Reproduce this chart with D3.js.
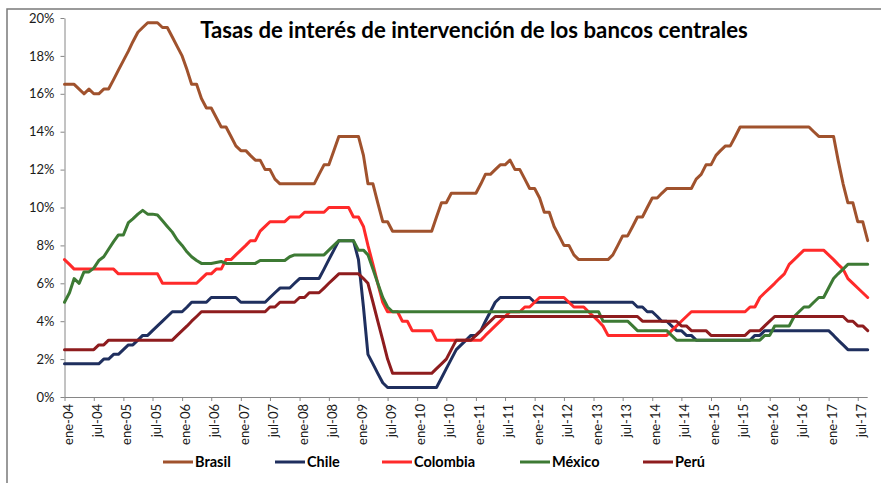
<!DOCTYPE html>
<html>
<head>
<meta charset="utf-8">
<script src="https://cdn.jsdelivr.net/npm/d3@7"></script>
<style>
  body { margin: 0; background: #fff; }
  svg { display: block; font-family: Lato, "Open Sans", sans-serif; }
</style>
</head>
<body>
<script>
// monthly policy rates, ene-04 .. sep-17 (165 months)
var startMonth = "2004-01";
var countries = ["Brasil", "Chile", "Colombia", "México", "Perú"];

var brasil = [
  16.5,16.5,16.5,16.25,16.0,16.25,16.0,16.0,16.25,16.25,16.75,17.25,
  17.75,18.25,18.75,19.25,19.5,19.75,19.75,19.75,19.5,19.5,19.0,18.5,
  18.0,17.25,16.5,16.5,15.75,15.25,15.25,14.75,14.25,14.25,13.75,13.25,
  13.0,13.0,12.75,12.5,12.5,12.0,12.0,11.5,11.25,11.25,11.25,11.25,
  11.25,11.25,11.25,11.25,11.75,12.25,12.25,13.0,13.75,13.75,13.75,13.75,
  13.75,12.75,11.25,11.25,10.25,9.25,9.25,8.75,8.75,8.75,8.75,8.75,
  8.75,8.75,8.75,8.75,9.5,10.25,10.25,10.75,10.75,10.75,10.75,10.75,
  10.75,11.25,11.75,11.75,12.0,12.25,12.25,12.5,12.0,12.0,11.5,11.0,
  11.0,10.5,9.75,9.75,9.0,8.5,8.0,8.0,7.5,7.25,7.25,7.25,
  7.25,7.25,7.25,7.25,7.5,8.0,8.5,8.5,9.0,9.5,9.5,10.0,
  10.5,10.5,10.75,11.0,11.0,11.0,11.0,11.0,11.0,11.5,11.75,12.25,
  12.25,12.75,13.0,13.25,13.25,13.75,14.25,14.25,14.25,14.25,14.25,14.25,
  14.25,14.25,14.25,14.25,14.25,14.25,14.25,14.25,14.25,14.0,13.75,13.75,
  13.75,13.75,12.5,11.25,10.25,10.25,9.25,9.25,8.25
];
var chile = [
  1.75,1.75,1.75,1.75,1.75,1.75,1.75,1.75,2.0,2.0,2.25,2.25,
  2.5,2.75,2.75,3.0,3.25,3.25,3.5,3.75,4.0,4.25,4.5,4.5,
  4.5,4.75,5.0,5.0,5.0,5.0,5.25,5.25,5.25,5.25,5.25,5.25,
  5.0,5.0,5.0,5.0,5.0,5.0,5.25,5.5,5.75,5.75,5.75,6.0,
  6.25,6.25,6.25,6.25,6.25,6.75,7.25,7.75,8.25,8.25,8.25,8.25,
  7.25,4.75,2.25,1.75,1.25,0.75,0.5,0.5,0.5,0.5,0.5,0.5,
  0.5,0.5,0.5,0.5,0.5,1.0,1.5,2.0,2.5,2.75,3.0,3.25,
  3.25,3.5,4.0,4.5,5.0,5.25,5.25,5.25,5.25,5.25,5.25,5.25,
  5.0,5.0,5.0,5.0,5.0,5.0,5.0,5.0,5.0,5.0,5.0,5.0,
  5.0,5.0,5.0,5.0,5.0,5.0,5.0,5.0,5.0,4.75,4.75,4.5,
  4.5,4.25,4.0,4.0,3.75,3.5,3.5,3.25,3.25,3.0,3.0,3.0,
  3.0,3.0,3.0,3.0,3.0,3.0,3.0,3.0,3.0,3.25,3.25,3.5,
  3.5,3.5,3.5,3.5,3.5,3.5,3.5,3.5,3.5,3.5,3.5,3.5,
  3.5,3.25,3.0,2.75,2.5,2.5,2.5,2.5,2.5
];
var colombia = [
  7.25,7.0,6.75,6.75,6.75,6.75,6.75,6.75,6.75,6.75,6.75,6.5,
  6.5,6.5,6.5,6.5,6.5,6.5,6.5,6.5,6.0,6.0,6.0,6.0,
  6.0,6.0,6.0,6.0,6.25,6.5,6.5,6.75,6.75,7.25,7.25,7.5,
  7.75,8.0,8.25,8.25,8.75,9.0,9.25,9.25,9.25,9.25,9.5,9.5,
  9.5,9.75,9.75,9.75,9.75,9.75,10.0,10.0,10.0,10.0,10.0,9.5,
  9.5,9.0,8.0,7.0,6.0,5.0,4.5,4.5,4.5,4.0,4.0,3.5,
  3.5,3.5,3.5,3.5,3.0,3.0,3.0,3.0,3.0,3.0,3.0,3.0,
  3.0,3.0,3.25,3.5,3.75,4.0,4.25,4.5,4.5,4.5,4.75,4.75,
  5.0,5.25,5.25,5.25,5.25,5.25,5.25,5.0,4.75,4.75,4.75,4.5,
  4.25,4.0,3.75,3.25,3.25,3.25,3.25,3.25,3.25,3.25,3.25,3.25,
  3.25,3.25,3.25,3.25,3.5,3.75,4.0,4.25,4.5,4.5,4.5,4.5,
  4.5,4.5,4.5,4.5,4.5,4.5,4.5,4.5,4.75,4.75,5.25,5.5,
  5.75,6.0,6.25,6.5,7.0,7.25,7.5,7.75,7.75,7.75,7.75,7.75,
  7.5,7.25,7.0,6.75,6.25,6.0,5.75,5.5,5.25
];
var mexico = [
  5.0,5.5,6.25,6.0,6.6,6.6,6.8,7.2,7.4,7.8,8.2,8.55,
  8.55,9.2,9.4,9.65,9.85,9.65,9.65,9.6,9.3,9.0,8.7,8.3,
  8.0,7.65,7.4,7.2,7.05,7.05,7.05,7.1,7.15,7.05,7.05,7.05,
  7.05,7.05,7.05,7.05,7.2,7.2,7.2,7.2,7.2,7.2,7.4,7.5,
  7.5,7.5,7.5,7.5,7.5,7.5,7.75,8.0,8.25,8.25,8.25,8.25,
  7.75,7.75,7.5,6.75,6.0,5.25,4.75,4.5,4.5,4.5,4.5,4.5,
  4.5,4.5,4.5,4.5,4.5,4.5,4.5,4.5,4.5,4.5,4.5,4.5,
  4.5,4.5,4.5,4.5,4.5,4.5,4.5,4.5,4.5,4.5,4.5,4.5,
  4.5,4.5,4.5,4.5,4.5,4.5,4.5,4.5,4.5,4.5,4.5,4.5,
  4.5,4.5,4.0,4.0,4.0,4.0,4.0,4.0,3.75,3.5,3.5,3.5,
  3.5,3.5,3.5,3.5,3.25,3.0,3.0,3.0,3.0,3.0,3.0,3.0,
  3.0,3.0,3.0,3.0,3.0,3.0,3.0,3.0,3.0,3.0,3.0,3.25,
  3.25,3.75,3.75,3.75,3.75,4.25,4.5,4.75,4.75,5.0,5.25,5.25,
  5.75,6.25,6.5,6.75,7.0,7.0,7.0,7.0,7.0
];
var peru = [
  2.5,2.5,2.5,2.5,2.5,2.5,2.5,2.75,2.75,3.0,3.0,3.0,
  3.0,3.0,3.0,3.0,3.0,3.0,3.0,3.0,3.0,3.0,3.0,3.25,
  3.5,3.75,4.0,4.25,4.5,4.5,4.5,4.5,4.5,4.5,4.5,4.5,
  4.5,4.5,4.5,4.5,4.5,4.5,4.75,4.75,5.0,5.0,5.0,5.0,
  5.25,5.25,5.5,5.5,5.5,5.75,6.0,6.25,6.5,6.5,6.5,6.5,
  6.5,6.25,6.0,5.0,4.0,3.0,2.0,1.25,1.25,1.25,1.25,1.25,
  1.25,1.25,1.25,1.25,1.5,1.75,2.0,2.5,3.0,3.0,3.0,3.0,
  3.25,3.5,3.75,4.0,4.25,4.25,4.25,4.25,4.25,4.25,4.25,4.25,
  4.25,4.25,4.25,4.25,4.25,4.25,4.25,4.25,4.25,4.25,4.25,4.25,
  4.25,4.25,4.25,4.25,4.25,4.25,4.25,4.25,4.25,4.25,4.0,4.0,
  4.0,4.0,4.0,4.0,4.0,4.0,3.75,3.75,3.5,3.5,3.5,3.5,
  3.25,3.25,3.25,3.25,3.25,3.25,3.25,3.25,3.5,3.5,3.5,3.75,
  4.0,4.25,4.25,4.25,4.25,4.25,4.25,4.25,4.25,4.25,4.25,4.25,
  4.25,4.25,4.25,4.25,4.0,4.0,3.75,3.75,3.5
];

var tickLabels = ["ene-04","jul-04","ene-05","jul-05","ene-06","jul-06","ene-07","jul-07",
  "ene-08","jul-08","ene-09","jul-09","ene-10","jul-10","ene-11","jul-11","ene-12","jul-12",
  "ene-13","jul-13","ene-14","jul-14","ene-15","jul-15","ene-16","jul-16","ene-17","jul-17"];
var yTicks = [0, 2, 4, 6, 8, 10, 12, 14, 16, 18, 20];

var seriesValues = [brasil, chile, colombia, mexico, peru];
var colors = ["#A0522D", "#1F2F5E", "#FF2A2A", "#3D7A34", "#8E1C1E"];

var W = 881, H = 483;
var plot = { left: 64.5, right: 867.7, top: 18, bottom: 397 };

var svg = d3.select("body").append("svg")
    .attr("width", W)
    .attr("height", H);

// outer frame (only top and left edge visible in the picture)
svg.append("rect")
    .attr("x", 7).attr("y", 9)
    .attr("width", W + 10).attr("height", H + 10)
    .attr("fill", "none")
    .attr("stroke", "#7a7a7a")
    .attr("stroke-width", 1.5);

var start = d3.utcParse("%Y-%m")(startMonth);
var months = d3.range(brasil.length).map(function (i) { return d3.utcMonth.offset(start, i); });

var x = d3.scaleUtc()
    .domain([months[0], months[months.length - 1]])
    .range([plot.left, plot.right]);
var y = d3.scaleLinear()
    .domain([0, 20])
    .range([plot.bottom, plot.top]);

var tickDates = tickLabels.map(function (d, i) { return d3.utcMonth.offset(start, 6 * i); });

// x axis
var gx = svg.append("g")
    .attr("transform", "translate(0," + plot.bottom + ")")
    .call(d3.axisBottom(x)
        .tickValues(tickDates)
        .tickSize(4)
        .tickSizeOuter(0)
        .tickFormat(function (d, i) { return tickLabels[i]; }));
gx.select(".domain").attr("d", "M" + plot.left + ",0.5H" + plot.right);
gx.selectAll("text")
    .attr("transform", "rotate(-90)")
    .attr("x", -7)
    .attr("y", 3)
    .attr("dy", "0.35em")
    .style("text-anchor", "end");

// y axis
var gy = svg.append("g")
    .attr("transform", "translate(" + plot.left + ",0)")
    .call(d3.axisLeft(y)
        .tickValues(yTicks)
        .tickSize(4)
        .tickSizeOuter(0)
        .tickFormat(function (d) { return d + "%"; }));
gy.selectAll("text").attr("x", -10);

svg.selectAll(".tick text")
    .style("font-family", "Lato, sans-serif")
    .style("font-size", "13px")
    .attr("fill", "#1a1a1a");
svg.selectAll(".domain, .tick line")
    .attr("stroke", "#868686");

// series lines
var line = d3.line()
    .x(function (d, i) { return x(months[i]); })
    .y(function (d) { return y(d); });

seriesValues.forEach(function (vals, k) {
    svg.append("path")
        .datum(vals)
        .attr("fill", "none")
        .attr("stroke", colors[k])
        .attr("stroke-width", 3)
        .attr("stroke-linejoin", "round")
        .attr("stroke-linecap", "round")
        .attr("d", line);
});

// title
var title = svg.append("text")
    .attr("x", 474)
    .attr("y", 38)
    .attr("text-anchor", "middle")
    .style("font-family", "Lato, sans-serif")
    .style("font-weight", "bold")
    .style("font-size", "19px")
    .attr("fill", "#000")
    .text("Tasas de interés de intervención de los bancos centrales");
var tw = title.node().getComputedTextLength();
title.style("font-size", (19 * 548 / tw) + "px");

// legend
var legendX = [163, 275, 382, 520, 643];
var legend = svg.append("g");
countries.forEach(function (name, k) {
    legend.append("line")
        .attr("x1", legendX[k]).attr("x2", legendX[k] + 30)
        .attr("y1", 462).attr("y2", 462)
        .attr("stroke", colors[k])
        .attr("stroke-width", 3);
    legend.append("text")
        .attr("x", legendX[k] + 32)
        .attr("y", 467)
        .style("font-family", "Lato, sans-serif")
        .style("font-weight", "bold")
        .style("font-size", "14.5px")
        .attr("fill", "#000")
        .text(name);
});
</script>
</body>
</html>
